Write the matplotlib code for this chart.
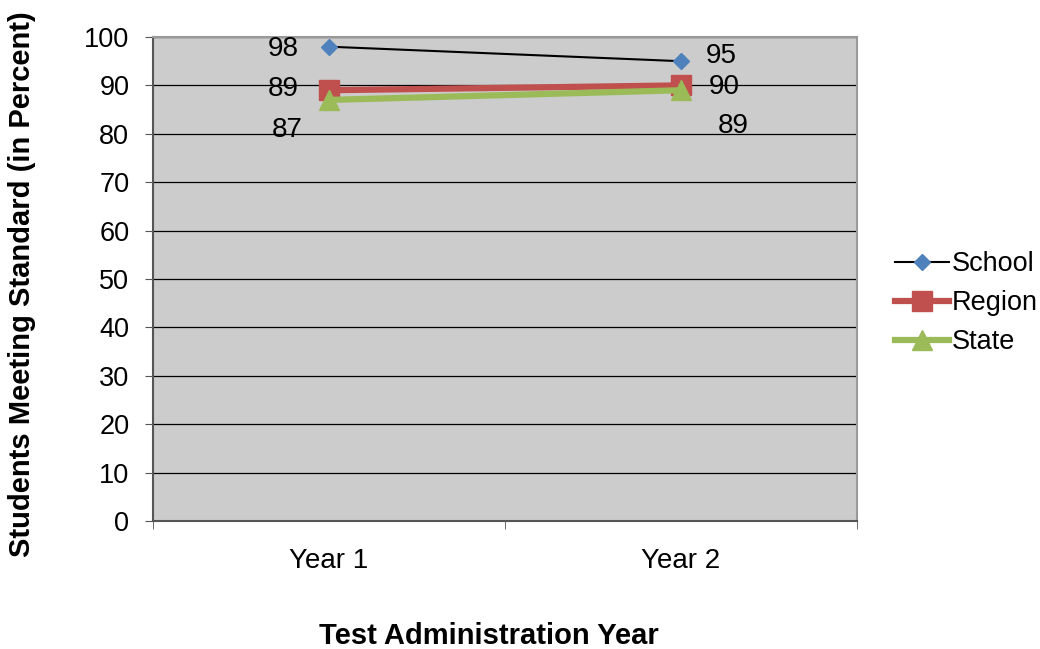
import matplotlib.pyplot as plt

plt.rcParams['font.family'] = ['Liberation Sans', 'DejaVu Sans']

years = ['Year 1', 'Year 2']
school = [98, 95]
region = [89, 90]
state = [87, 89]

# label offsets (points) per series, per year
school_off = [(-33, -2), (29, 4)]
region_off = [(-33, 1), (31, -1)]
state_off = [(-30, -22), (38, -26)]

fig = plt.figure(figsize=(10.4, 6.49), dpi=100)
ax = fig.add_axes([0.147, 0.197, 0.677, 0.746])
ax.set_facecolor('#cccccc')

x = [0, 1]
ax.plot(x, school, color='black', lw=1.5, marker='D', ms=8,
        mfc='#4f81bd', mec='#4f81bd', label='School', zorder=5)
ax.plot(x, region, color='#c0504d', lw=4.5, marker='s', ms=14,
        mfc='#c0504d', mec='#c0504d', label='Region', zorder=3)
ax.plot(x, state, color='#9bbb59', lw=4.5, marker='^', ms=15,
        mfc='#9bbb59', mec='#9bbb59', label='State', zorder=4)

for vals, offs in [(school, school_off), (region, region_off), (state, state_off)]:
    for xi, v, off in zip(x, vals, offs):
        ax.annotate(str(v), (xi, v), xytext=off, textcoords='offset points',
                    ha='center', va='center', fontsize=20)

ax.set_xlim(-0.5, 1.5)
ax.set_ylim(0, 100)
ax.set_yticks(range(0, 101, 10))
ax.set_xticks(x)
ax.set_xticklabels(years)
ax.set_xticks([-0.5, 0.5, 1.5], minor=True)
ax.tick_params(axis='x', which='major', length=0, pad=19, labelsize=20)
ax.tick_params(axis='x', which='minor', length=6, direction='out', color='#555555')
ax.tick_params(axis='y', length=6, direction='out', color='#555555',
               labelsize=19.5, pad=11)
ax.grid(axis='y', color='black', lw=0.9)
ax.set_axisbelow(True)

for side in ['top', 'right']:
    ax.spines[side].set_color('#999999')
    ax.spines[side].set_linewidth(1.5)
for side in ['left', 'bottom']:
    ax.spines[side].set_color('#555555')
    ax.spines[side].set_linewidth(1.5)

ax.set_xlabel('Test Administration Year', fontsize=21, fontweight='bold')
ax.xaxis.set_label_coords(0.477, -0.208)
ax.set_ylabel('Students Meeting Standard (in Percent)', fontsize=21,
              fontweight='bold')
ax.yaxis.set_label_coords(-0.166, 0.49)

ax.legend(loc='center left', bbox_to_anchor=(1.054, 0.45), frameon=False,
          fontsize=19.5, handlelength=2.0, handletextpad=0.1, labelspacing=0.48,
          borderaxespad=0, borderpad=0)

fig.savefig('out.png', dpi=100)
